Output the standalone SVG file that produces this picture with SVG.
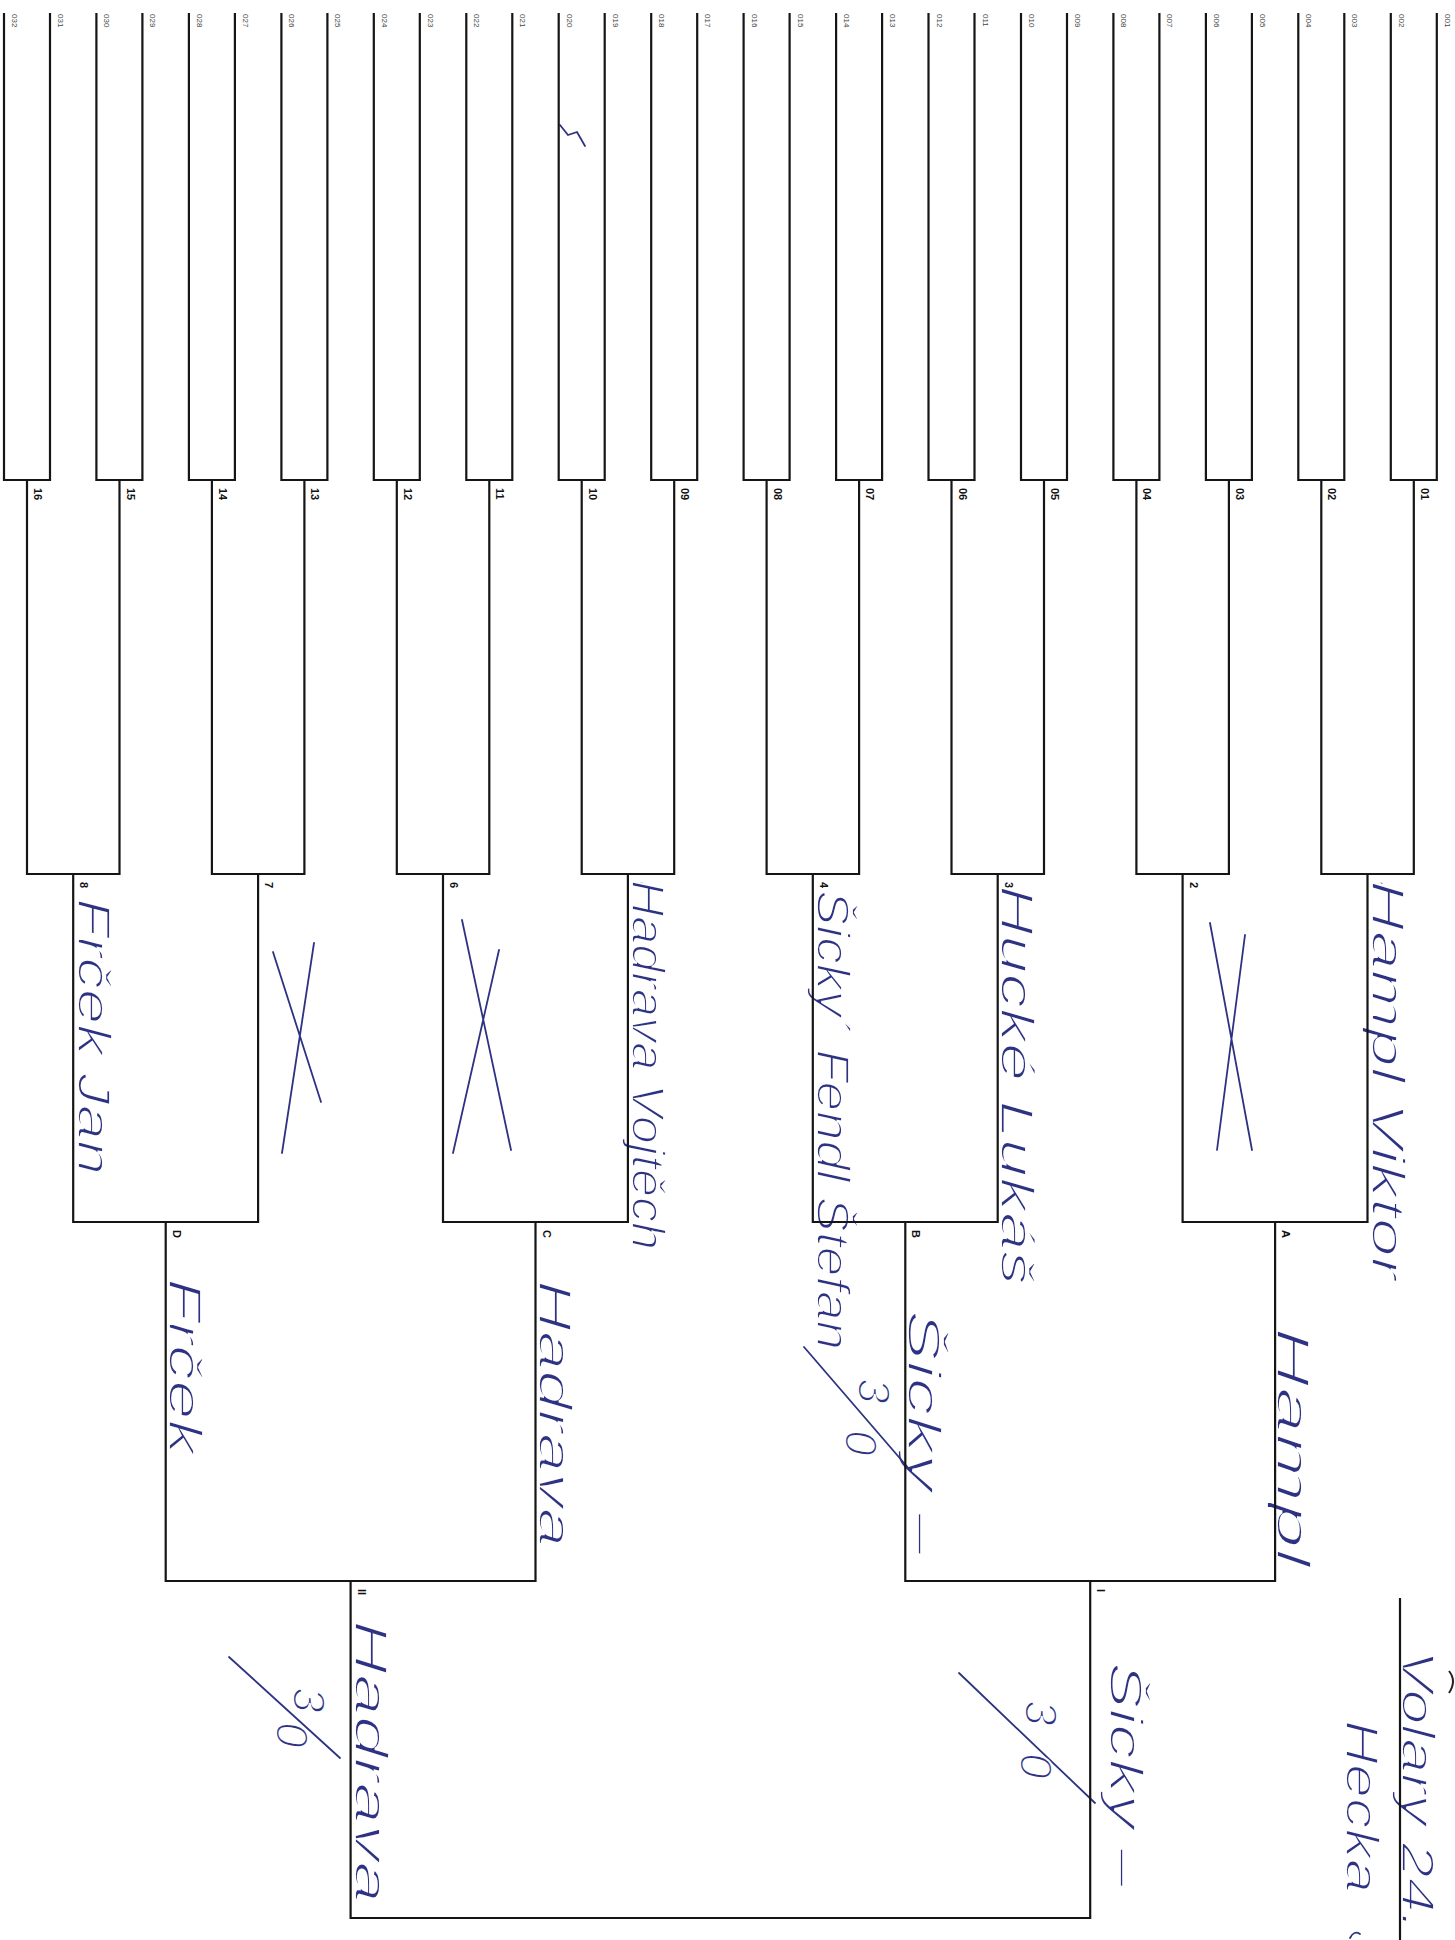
<svg xmlns="http://www.w3.org/2000/svg" width="1455" height="1940" viewBox="0 0 1455 1940">
<style>
.ln{stroke:#151515;stroke-width:2.2;fill:none;stroke-linejoin:miter}
.top{font-family:"Liberation Sans",Arial,sans-serif;font-size:8px;fill:#444}
.lbl{font-family:"Liberation Sans",Arial,sans-serif;font-size:11px;font-weight:bold;fill:#111}
.hw{font-family:"Liberation Sans",Arial,sans-serif;font-style:italic;font-size:46px;fill:#2d3282;stroke:#ffffff;stroke-width:1.8px;paint-order:normal}
.sc{font-family:"Liberation Sans",Arial,sans-serif;font-style:italic;font-size:46px;fill:#2d3282;stroke:#ffffff;stroke-width:1.8px}
.ink{stroke:#2d3282;stroke-width:1.8;fill:none;stroke-linecap:round}
</style>
<rect width="1455" height="1940" fill="#ffffff"/>
<g id="entries">
<text class="top" transform="translate(12,14) rotate(90)">032</text>
<text class="top" transform="translate(58,14) rotate(90)">031</text>
<text class="top" transform="translate(104.4,14) rotate(90)">030</text>
<text class="top" transform="translate(150.4,14) rotate(90)">029</text>
<text class="top" transform="translate(196.9,14) rotate(90)">028</text>
<text class="top" transform="translate(242.9,14) rotate(90)">027</text>
<text class="top" transform="translate(289.4,14) rotate(90)">026</text>
<text class="top" transform="translate(335.4,14) rotate(90)">025</text>
<text class="top" transform="translate(381.8,14) rotate(90)">024</text>
<text class="top" transform="translate(427.8,14) rotate(90)">023</text>
<text class="top" transform="translate(474.3,14) rotate(90)">022</text>
<text class="top" transform="translate(520.3,14) rotate(90)">021</text>
<text class="top" transform="translate(566.7,14) rotate(90)">020</text>
<text class="top" transform="translate(612.7,14) rotate(90)">019</text>
<text class="top" transform="translate(659.2,14) rotate(90)">018</text>
<text class="top" transform="translate(705.2,14) rotate(90)">017</text>
<text class="top" transform="translate(751.6,14) rotate(90)">016</text>
<text class="top" transform="translate(797.6,14) rotate(90)">015</text>
<text class="top" transform="translate(844.1,14) rotate(90)">014</text>
<text class="top" transform="translate(890.1,14) rotate(90)">013</text>
<text class="top" transform="translate(936.5,14) rotate(90)">012</text>
<text class="top" transform="translate(982.5,14) rotate(90)">011</text>
<text class="top" transform="translate(1029,14) rotate(90)">010</text>
<text class="top" transform="translate(1075,14) rotate(90)">009</text>
<text class="top" transform="translate(1121.4,14) rotate(90)">008</text>
<text class="top" transform="translate(1167.4,14) rotate(90)">007</text>
<text class="top" transform="translate(1213.9,14) rotate(90)">006</text>
<text class="top" transform="translate(1259.9,14) rotate(90)">005</text>
<text class="top" transform="translate(1306.3,14) rotate(90)">004</text>
<text class="top" transform="translate(1352.3,14) rotate(90)">003</text>
<text class="top" transform="translate(1398.8,14) rotate(90)">002</text>
<text class="top" transform="translate(1444.8,14) rotate(90)">001</text>
</g>
<g id="round1">
<text class="lbl" transform="translate(34,488) rotate(90)">16</text>
<text class="lbl" transform="translate(126.5,488) rotate(90)">15</text>
<text class="lbl" transform="translate(218.9,488) rotate(90)">14</text>
<text class="lbl" transform="translate(311.4,488) rotate(90)">13</text>
<text class="lbl" transform="translate(403.8,488) rotate(90)">12</text>
<text class="lbl" transform="translate(496.3,488) rotate(90)">11</text>
<text class="lbl" transform="translate(588.7,488) rotate(90)">10</text>
<text class="lbl" transform="translate(681.2,488) rotate(90)">09</text>
<text class="lbl" transform="translate(773.6,488) rotate(90)">08</text>
<text class="lbl" transform="translate(866.1,488) rotate(90)">07</text>
<text class="lbl" transform="translate(958.5,488) rotate(90)">06</text>
<text class="lbl" transform="translate(1051,488) rotate(90)">05</text>
<text class="lbl" transform="translate(1143.4,488) rotate(90)">04</text>
<text class="lbl" transform="translate(1235.9,488) rotate(90)">03</text>
<text class="lbl" transform="translate(1328.3,488) rotate(90)">02</text>
<text class="lbl" transform="translate(1420.8,488) rotate(90)">01</text>
</g>
<g id="round2">
<text class="lbl" transform="translate(80.2,882) rotate(90)">8</text>
<text class="lbl" transform="translate(265.1,882) rotate(90)">7</text>
<text class="lbl" transform="translate(450,882) rotate(90)">6</text>
<text class="lbl" transform="translate(634.9,882) rotate(90)">5</text>
<text class="lbl" transform="translate(819.8,882) rotate(90)">4</text>
<text class="lbl" transform="translate(1004.7,882) rotate(90)">3</text>
<text class="lbl" transform="translate(1189.6,882) rotate(90)">2</text>
<text class="lbl" transform="translate(1374.5,882) rotate(90)">1</text>
<text class="hw" transform="translate(78,898) rotate(90)" textLength="277" lengthAdjust="spacingAndGlyphs">Frček Jan</text>
<path class="ink" d="M273,952L321,1102M314,943L282,1153"/>
<path class="ink" d="M462,920L511,1150M499,950L453,1153"/>
<text class="hw" transform="translate(632,880) rotate(90)" textLength="370" lengthAdjust="spacingAndGlyphs">Hadrava Vojtěch</text>
<text class="hw" transform="translate(817,890) rotate(90)" textLength="460" lengthAdjust="spacingAndGlyphs">Šicky´ Fendl Štefan</text>
<text class="hw" transform="translate(1001,885) rotate(90)" textLength="400" lengthAdjust="spacingAndGlyphs">Hucké Lukáš</text>
<path class="ink" d="M1210,923L1252,1150M1245,935L1217,1150"/>
<text class="hw" transform="translate(1372,880) rotate(90)" textLength="400" lengthAdjust="spacingAndGlyphs">Hampl Viktor</text>
</g>
<g id="round3">
<text class="lbl" transform="translate(172.7,1230) rotate(90)">D</text>
<text class="lbl" transform="translate(542.5,1230) rotate(90)">C</text>
<text class="lbl" transform="translate(912.3,1230) rotate(90)">B</text>
<text class="lbl" transform="translate(1282.1,1230) rotate(90)">A</text>
<text class="hw" transform="translate(169,1278) rotate(90)" textLength="177" lengthAdjust="spacingAndGlyphs">Frček</text>
<text class="hw" transform="translate(539,1280) rotate(90)" textLength="267" lengthAdjust="spacingAndGlyphs">Hadrava</text>
<text class="hw" transform="translate(908,1310) rotate(90)" textLength="245" lengthAdjust="spacingAndGlyphs">Šicky –</text>
<path class="ink" d="M804,1347L910,1470"/>
<text class="sc" transform="translate(858,1378) rotate(90)">3</text>
<text class="sc" transform="translate(845,1430) rotate(90)">0</text>
<text class="hw" transform="translate(1277,1327) rotate(90)" textLength="240" lengthAdjust="spacingAndGlyphs">Hampl</text>
</g>
<g id="round4">
<text class="lbl" transform="translate(357.6,1589) rotate(90)">II</text>
<text class="lbl" transform="translate(1097.2,1589) rotate(90)">I</text>
<text class="hw" transform="translate(355,1620) rotate(90)" textLength="283" lengthAdjust="spacingAndGlyphs">Hadrava</text>
<path class="ink" d="M229,1657L340,1758"/>
<text class="sc" transform="translate(293,1687) rotate(90)">3</text>
<text class="sc" transform="translate(276,1722) rotate(90)">0</text>
<text class="hw" transform="translate(1110,1662) rotate(90)" textLength="225" lengthAdjust="spacingAndGlyphs">Šicky –</text>
<path class="ink" d="M959,1673L1095,1803"/>
<text class="sc" transform="translate(1025,1700) rotate(90)">3</text>
<text class="sc" transform="translate(1020,1753) rotate(90)">0</text>
</g>
<g id="signature">
<text class="hw" transform="translate(1402,1650) rotate(90)" textLength="280" lengthAdjust="spacingAndGlyphs">Volary 24.</text>
<text class="hw" transform="translate(1346,1720) rotate(90)" textLength="173" lengthAdjust="spacingAndGlyphs">Hecka</text>
<path class="ink" d="M1350,1938q4,-8 10,-4"/>
<path d="M1449,1671q8,10 0,22" stroke="#222" stroke-width="2" fill="none"/>
<path class="ink" d="M560,125l8,10l9,-3l8,14"/>
</g>
<g id="connectors">
<path class="ln" d="M4,13V480H50V13M96.4,13V480H142.4V13M188.9,13V480H234.9V13M281.4,13V480H327.4V13M373.8,13V480H419.8V13M466.3,13V480H512.3V13M558.7,13V480H604.7V13M651.2,13V480H697.2V13M743.6,13V480H789.6V13M836.1,13V480H882.1V13M928.5,13V480H974.5V13M1021,13V480H1067V13M1113.4,13V480H1159.4V13M1205.9,13V480H1251.9V13M1298.3,13V480H1344.3V13M1390.8,13V480H1436.8V13"/>
<path class="ln" d="M27,480V874H119.5V480M211.9,480V874H304.4V480M396.8,480V874H489.3V480M581.7,480V874H674.2V480M766.6,480V874H859.1V480M951.5,480V874H1044V480M1136.4,480V874H1228.9V480M1321.3,480V874H1413.8V480"/>
<path class="ln" d="M73.2,874V1222H258.1V874M443,874V1222H627.9V874M812.8,874V1222H997.7V874M1182.6,874V1222H1367.5V874"/>
<path class="ln" d="M165.7,1222V1581H535.5V1222M905.3,1222V1581H1275.1V1222"/>
<path class="ln" d="M350.6,1581V1918H1090.2V1581"/>
<path class="ln" d="M1400,1598V1940"/>
</g>
</svg>
